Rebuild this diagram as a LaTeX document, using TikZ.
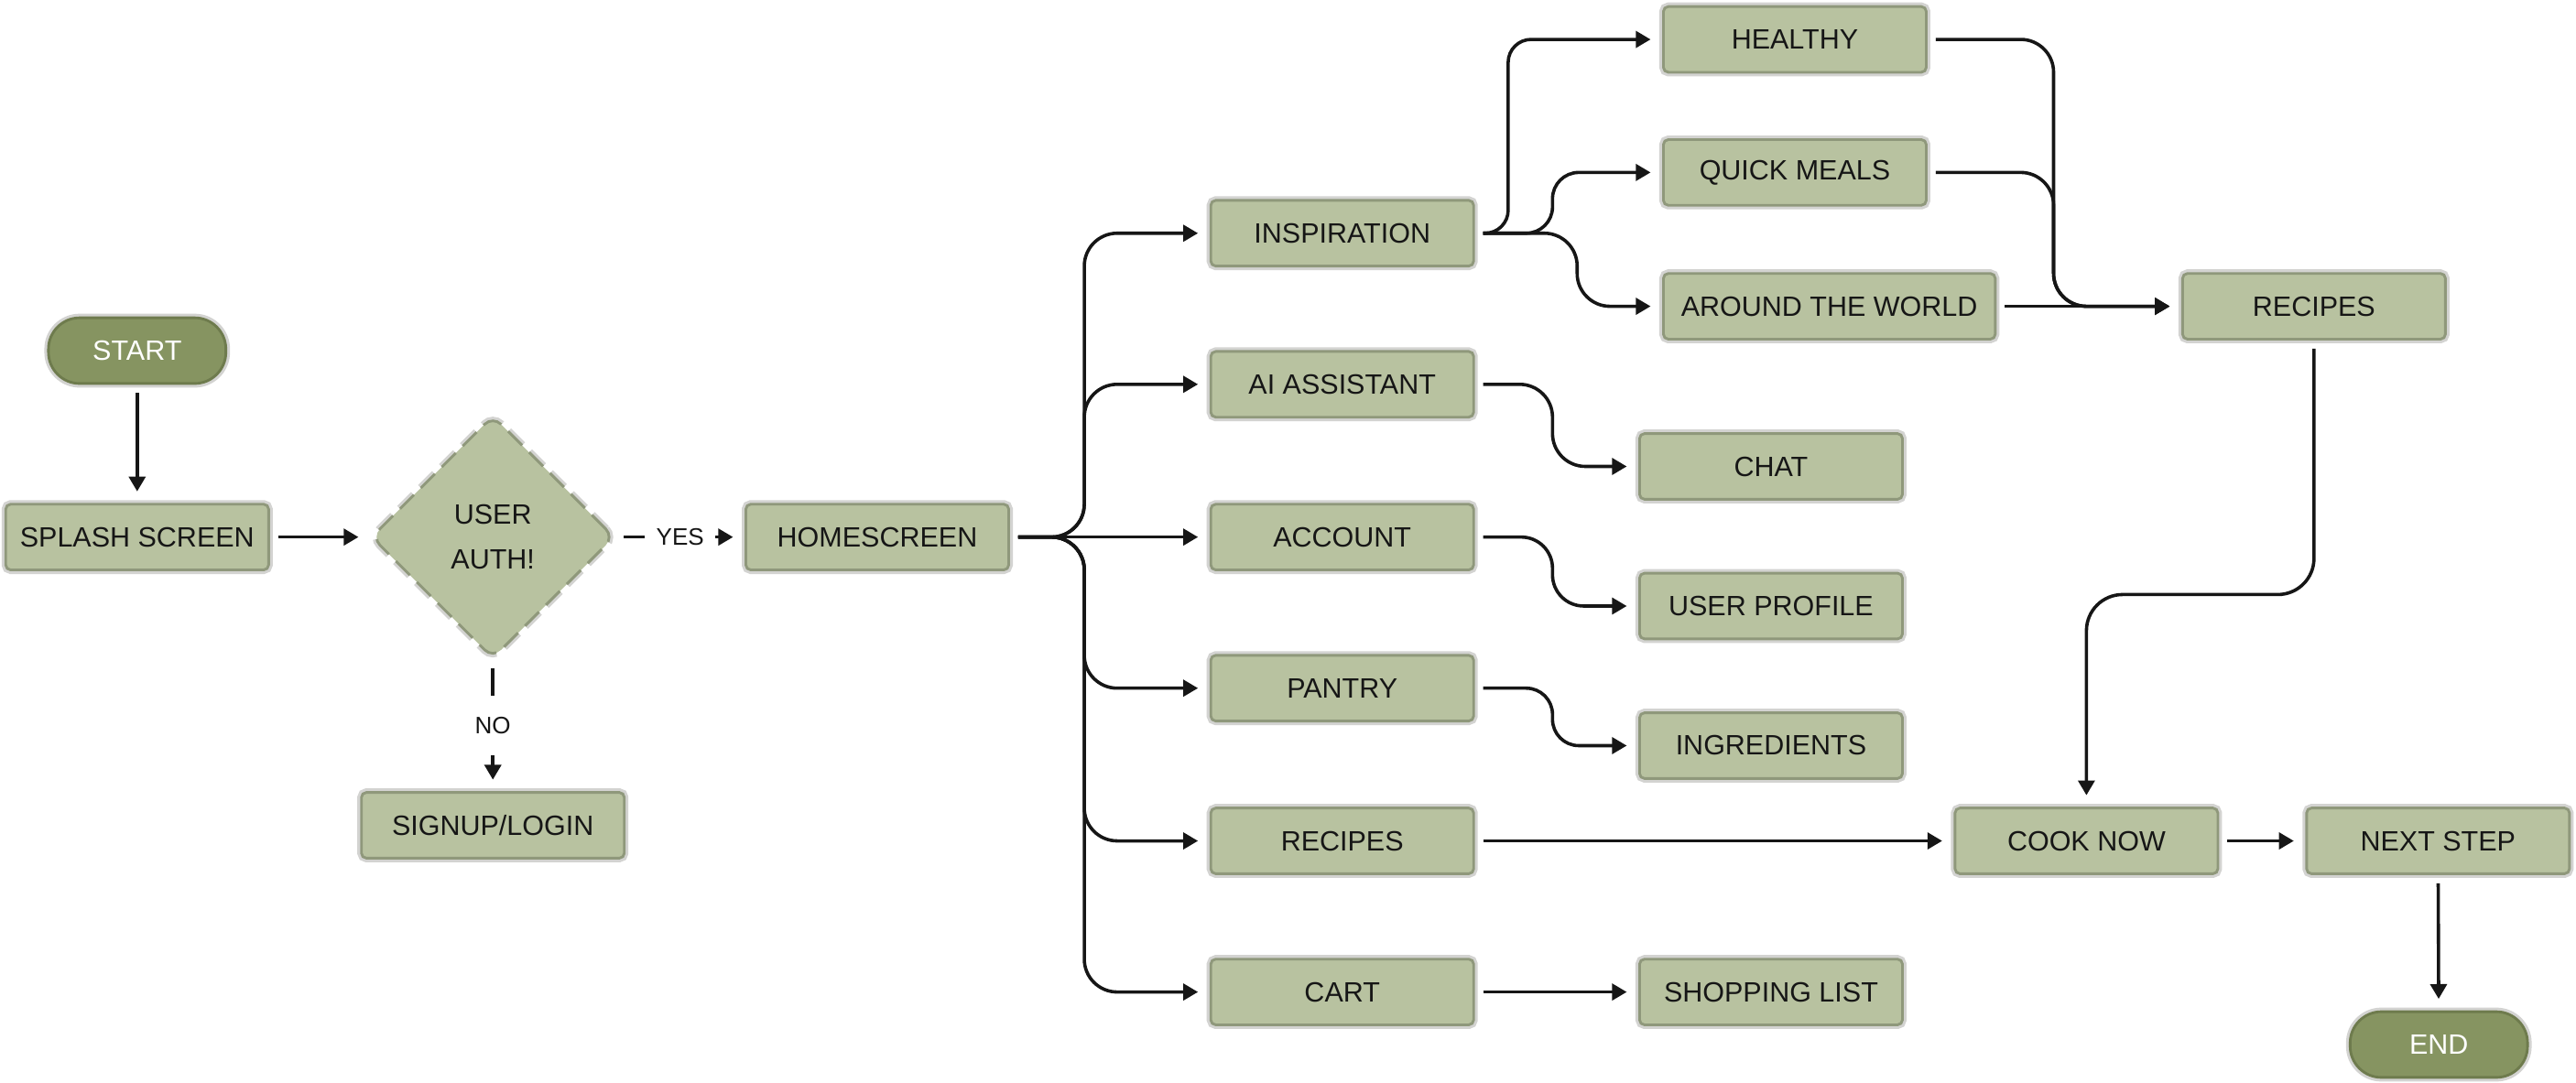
\documentclass[tikz,border=0pt]{standalone}
\usepackage{fontspec}
\setmainfont{Liberation Sans}
\usetikzlibrary{arrows.meta,shapes.geometric}
\definecolor{sage}{HTML}{B8C2A0}
\definecolor{sageedge}{HTML}{8F987B}
\definecolor{olive}{HTML}{869461}
\definecolor{oliveedge}{HTML}{6E7B4D}
\definecolor{halo}{HTML}{D3D3D1}
\definecolor{ink}{HTML}{161616}
\begin{document}
\begin{tikzpicture}[x=1pt,y=-1pt,
  every node/.style={font=\fontsize{17}{20}\selectfont, text=ink},
  box/.style={rectangle, rounded corners=3pt, fill=sage, draw=sageedge, line width=1.6pt,
    preaction={draw=halo, line width=5pt}, minimum width=160pt, minimum height=40pt, inner sep=0pt},
  pill/.style={rectangle, rounded corners=19pt, fill=olive, draw=oliveedge, line width=1.6pt,
    preaction={draw=halo, line width=5pt}, minimum width=108pt, minimum height=40pt, text=white, inner sep=0pt},
  decision/.style={diamond, aspect=1, rounded corners=7pt, fill=sage, draw=sageedge, line width=1.6pt,
    dash pattern=on 12pt off 6pt,
    preaction={draw=halo, line width=5pt, dash pattern=on 12pt off 6pt},
    minimum width=148pt, minimum height=148pt, inner sep=0pt, align=center, font=\fontsize{17}{27}\selectfont},
  conn/.style={draw=ink, line width=2pt, -{Triangle[length=9pt,width=10pt]}, shorten <=5pt, shorten >=7pt},
  lbl/.style={fill=white, font=\fontsize{14.5}{16}\selectfont, text=ink}
]
\fill[white] (0,0) rectangle (1568,659);
\useasboundingbox (0,0) rectangle (1568,659);

% nodes
\node[pill] (start) at (83.5,213.5) {START};
\node[box] (splash) at (83.5,327) {SPLASH SCREEN};
\node[decision] (auth) at (300,327) {USER\\AUTH!};
\node[box] (home) at (534,327) {HOMESCREEN};
\node[box] (signup) at (300,502.5) {SIGNUP/LOGIN};

\node[box] (insp) at (817,142) {INSPIRATION};
\node[box] (ai) at (817,234) {AI ASSISTANT};
\node[box] (acct) at (817,327) {ACCOUNT};
\node[box] (pantry) at (817,419) {PANTRY};
\node[box] (recl) at (817,512) {RECIPES};
\node[box] (cart) at (817,604) {CART};

\node[box] (healthy) at (1092.5,24) {HEALTHY};
\node[box] (quick) at (1092.5,105) {QUICK MEALS};
\node[box, minimum width=202pt] (world) at (1113.5,186.5) {AROUND THE WORLD};

\node[box] (chat) at (1078,284) {CHAT};
\node[box] (prof) at (1078,369) {USER PROFILE};
\node[box] (ingr) at (1078,454) {INGREDIENTS};
\node[box] (shop) at (1078,604) {SHOPPING LIST};

\node[box] (recr) at (1408.5,186.5) {RECIPES};
\node[box] (cook) at (1270,512) {COOK NOW};
\node[box] (next) at (1484,512) {NEXT STEP};
\node[pill] (end) at (1484.5,636) {END};

% junction coordinates
\coordinate (hj) at (660,327);
\coordinate (ij1) at (918,142);
\coordinate (ij2) at (945,142);
\coordinate (ij3) at (960,142);
\coordinate (aj) at (945,234);
\coordinate (cj) at (945,327);
\coordinate (pj) at (945,419);
\coordinate (hrj) at (1250,24);
\coordinate (qrj) at (1250,105);
\coordinate (m1) at (1408.5,362);
\coordinate (m2) at (1270,362);

% connectors
\draw[conn] (start) -- (splash);
\draw[conn] (splash) -- (auth);
\draw[conn] (auth.east) -- node[lbl, inner xsep=7pt, inner ysep=3pt] {YES} (home.west);
\draw[conn] (auth.south) -- node[lbl, inner xsep=3pt, inner ysep=13pt] {NO} (signup.north);

\draw[conn, rounded corners=20pt] (home.east) -- (hj) |- (insp.west);
\draw[conn, rounded corners=20pt] (home.east) -- (hj) |- (ai.west);
\draw[conn] (home.east) -- (acct.west);
\draw[conn, rounded corners=20pt] (home.east) -- (hj) |- (pantry.west);
\draw[conn, rounded corners=20pt] (home.east) -- (hj) |- (recl.west);
\draw[conn, rounded corners=20pt] (home.east) -- (hj) |- (cart.west);

\draw[conn, rounded corners=14pt] (insp.east) -- (ij1) |- (healthy.west);
\draw[conn, rounded corners=16pt] (insp.east) -- (ij2) |- (quick.west);
\draw[conn, rounded corners=20pt] (insp.east) -- (ij3) |- (world.west);

\draw[conn, rounded corners=20pt] (ai.east) -- (aj) |- (chat.west);
\draw[conn, rounded corners=19pt] (acct.east) -- (cj) |- (prof.west);
\draw[conn, rounded corners=16pt] (pantry.east) -- (pj) |- (ingr.west);
\draw[conn] (recl.east) -- (cook.west);
\draw[conn] (cart.east) -- (shop.west);

\draw[conn, rounded corners=20pt] (healthy.east) -- (hrj) |- (recr.west);
\draw[conn, rounded corners=20pt] (quick.east) -- (qrj) |- (recr.west);
\draw[conn] (world.east) -- (recr.west);

\draw[conn, rounded corners=22pt] (recr.south) -- (m1) -- (m2) -- (cook.north);
\draw[conn] (cook) -- (next);
\draw[conn] (next) -- (end);
\end{tikzpicture}
\end{document}
